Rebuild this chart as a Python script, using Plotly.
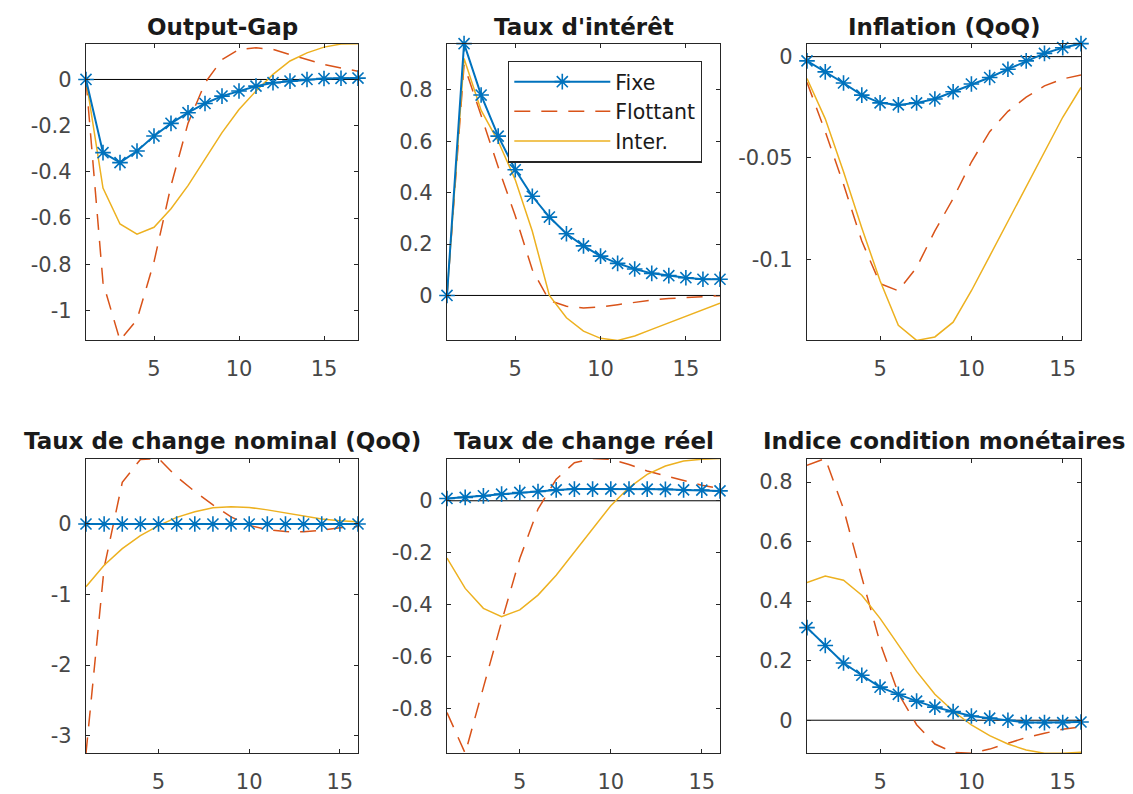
import plotly.graph_objects as go
from plotly.subplots import make_subplots

# ---------------- data ----------------
periods_17 = list(range(1, 18))
periods_16 = list(range(1, 17))

series_names = ["Fixe", "Flottant", "Inter."]

og_fixe = [0, -0.317, -0.36, -0.31, -0.245, -0.19, -0.144, -0.104, -0.072, -0.05, -0.029, -0.014, -0.007, 0.0, 0.004, 0.005, 0.006]
og_flot = [0, -0.88, -1.13, -1.04, -0.79, -0.46, -0.19, -0.015, 0.086, 0.13, 0.137, 0.13, 0.108, 0.086, 0.065, 0.05, 0.036]
og_inter = [0, -0.47, -0.626, -0.67, -0.64, -0.56, -0.46, -0.345, -0.23, -0.13, -0.05, 0.022, 0.08, 0.115, 0.14, 0.154, 0.155]

ir_fixe = [0, 0.98, 0.78, 0.62, 0.489, 0.386, 0.305, 0.24, 0.193, 0.153, 0.125, 0.103, 0.086, 0.077, 0.069, 0.063, 0.063]
ir_flot = [0, 0.897, 0.70, 0.50, 0.31, 0.10, -0.02, -0.042, -0.049, -0.045, -0.036, -0.026, -0.018, -0.012, -0.008, -0.004, -0.001]
ir_inter = [0, 0.922, 0.72, 0.60, 0.45, 0.25, 0.0, -0.087, -0.139, -0.167, -0.175, -0.158, -0.132, -0.107, -0.081, -0.055, -0.03]

inf_fixe = [-0.0021, -0.0075, -0.013, -0.019, -0.0228, -0.0238, -0.0228, -0.0209, -0.0173, -0.0135, -0.0103, -0.0062, -0.0021, 0.0016, 0.0044, 0.0064]
inf_flot = [-0.0127, -0.037, -0.063, -0.091, -0.112, -0.1155, -0.104, -0.086, -0.07, -0.052, -0.037, -0.027, -0.02, -0.0144, -0.011, -0.009]
inf_inter = [-0.0108, -0.0307, -0.0568, -0.0845, -0.1106, -0.1326, -0.14, -0.1383, -0.131, -0.1155, -0.0984, -0.0812, -0.0641, -0.047, -0.0299, -0.0152]

ner_fixe = [0, 0, 0, 0, 0, 0, 0, 0, 0, 0, 0, 0, 0, 0, 0, 0]
ner_flot = [-3.25, -0.62, 0.59, 0.915, 0.928, 0.67, 0.46, 0.27, 0.1, -0.02, -0.08, -0.108, -0.11, -0.09, -0.055, -0.035]
ner_inter = [-0.89, -0.586, -0.35, -0.164, -0.023, 0.094, 0.173, 0.23, 0.244, 0.234, 0.2, 0.155, 0.108, 0.07, 0.047, 0.033]

rer_fixe = [0.009, 0.013, 0.019, 0.0255, 0.032, 0.036, 0.042, 0.045, 0.045, 0.045, 0.045, 0.045, 0.044, 0.042, 0.041, 0.038]
rer_flot = [-0.817, -0.974, -0.72, -0.466, -0.223, -0.032, 0.083, 0.147, 0.163, 0.16, 0.14, 0.115, 0.096, 0.077, 0.06, 0.047]
rer_inter = [-0.221, -0.338, -0.415, -0.447, -0.421, -0.364, -0.287, -0.198, -0.108, -0.019, 0.051, 0.102, 0.134, 0.153, 0.16, 0.163]

mci_fixe = [0.311, 0.251, 0.192, 0.151, 0.111, 0.087, 0.064, 0.044, 0.029, 0.014, 0.007, 0.0, -0.008, -0.008, -0.008, -0.006]
mci_flot = [0.856, 0.879, 0.71, 0.48, 0.26, 0.09, -0.015, -0.08, -0.108, -0.111, -0.097, -0.078, -0.058, -0.044, -0.03, -0.022]
mci_inter = [0.462, 0.484, 0.47, 0.42, 0.342, 0.253, 0.164, 0.087, 0.031, -0.016, -0.052, -0.08, -0.1, -0.111, -0.111, -0.108]

titles = ["Output-Gap", "Taux d'intérêt", "Inflation (QoQ)",
          "Taux de change nominal (QoQ)", "Taux de change réel", "Indice condition monétaires"]

x_tickvals = [5, 10, 15]
x_ticktext = ["5", "10", "15"]

og_yticks = [-1, -0.8, -0.6, -0.4, -0.2, 0]
og_ytext = ["-1", "-0.8", "-0.6", "-0.4", "-0.2", "0"]
ir_yticks = [0, 0.2, 0.4, 0.6, 0.8]
ir_ytext = ["0", "0.2", "0.4", "0.6", "0.8"]
inf_yticks = [-0.1, -0.05, 0]
inf_ytext = ["-0.1", "-0.05", "0"]
ner_yticks = [-3, -2, -1, 0]
ner_ytext = ["-3", "-2", "-1", "0"]
rer_yticks = [-0.8, -0.6, -0.4, -0.2, 0]
rer_ytext = ["-0.8", "-0.6", "-0.4", "-0.2", "0"]
mci_yticks = [0, 0.2, 0.4, 0.6, 0.8]
mci_ytext = ["0", "0.2", "0.4", "0.6", "0.8"]

# ---------------- styling / layout ----------------
W, H = 1133, 794
BLUE, RED, YEL = "#0072BD", "#D95319", "#EDB120"
AX = "#262626"
TICKC = "#474747"
FONT = "DejaVu Sans"

panels = [
    (1, 1, periods_17, (og_fixe, og_flot, og_inter), og_yticks, og_ytext),
    (1, 2, periods_17, (ir_fixe, ir_flot, ir_inter), ir_yticks, ir_ytext),
    (1, 3, periods_16, (inf_fixe, inf_flot, inf_inter), inf_yticks, inf_ytext),
    (2, 1, periods_16, (ner_fixe, ner_flot, ner_inter), ner_yticks, ner_ytext),
    (2, 2, periods_16, (rer_fixe, rer_flot, rer_inter), rer_yticks, rer_ytext),
    (2, 3, periods_16, (mci_fixe, mci_flot, mci_inter), mci_yticks, mci_ytext),
]

col_px = [(86, 358), (447, 720), (807, 1081)]
row_px = [(44, 343), (462, 759)]
title_y_px = [27, 444]

fig = make_subplots(rows=2, cols=3)

for idx, (r, c, xs, (fx, fl, it), yt, ytt) in enumerate(panels):
    show = (r == 1 and c == 2)
    fig.add_trace(go.Scatter(x=xs, y=fl, mode="lines", name=series_names[1],
                             line=dict(color=RED, width=1.5, dash="16px,11px"),
                             showlegend=False, legendgroup="b"), row=r, col=c)
    fig.add_trace(go.Scatter(x=xs, y=it, mode="lines", name=series_names[2],
                             line=dict(color=YEL, width=1.5),
                             showlegend=False, legendgroup="c"), row=r, col=c)
    fig.add_trace(go.Scatter(x=xs, y=fx, mode="lines+markers", name=series_names[0],
                             line=dict(color=BLUE, width=2),
                             marker=dict(symbol="asterisk-open", size=13,
                                         line=dict(color=BLUE, width=1.6)),
                             cliponaxis=False,
                             showlegend=False, legendgroup="a"), row=r, col=c)
    if show:
        # legend entries
        for nm, ln, mk, rank in [
            (series_names[0], dict(color=BLUE, width=2), dict(symbol="asterisk-open", size=13, line=dict(color=BLUE, width=1.6)), 1),
            (series_names[1], dict(color=RED, width=1.5, dash="16px,11px"), None, 2),
            (series_names[2], dict(color=YEL, width=1.5), None, 3),
        ]:
            fig.add_trace(go.Scatter(x=[None], y=[None], name=nm,
                                     mode="lines+markers" if mk else "lines",
                                     line=ln, marker=mk if mk else None,
                                     showlegend=True, legendrank=rank), row=r, col=c)

    allv = list(fx) + list(fl) + list(it)
    ymin, ymax = min(allv), max(allv)
    n = idx + 1
    xa = "xaxis" if n == 1 else f"xaxis{n}"
    ya = "yaxis" if n == 1 else f"yaxis{n}"
    l, rr = col_px[c - 1]
    t, b = row_px[r - 1]
    fig.update_layout(**{
        xa: dict(domain=[l / W, rr / W], range=[xs[0], xs[-1]],
                 tickvals=x_tickvals, ticktext=x_ticktext,
                 ticks="inside", ticklen=4, tickcolor=AX, tickwidth=1,
                 showline=True, linecolor=AX, linewidth=1.3, mirror="ticks",
                 showgrid=False, zeroline=False,
                 tickfont=dict(family=FONT, size=21, color=TICKC),
                 ticklabelstandoff=9),
        ya: dict(domain=[1 - b / H, 1 - t / H], range=[ymin, ymax],
                 tickvals=yt, ticktext=ytt,
                 ticks="inside", ticklen=4, tickcolor=AX, tickwidth=1,
                 showline=True, linecolor=AX, linewidth=1.3, mirror="ticks",
                 showgrid=False, zeroline=False,
                 tickfont=dict(family=FONT, size=21, color=TICKC),
                 ticklabelstandoff=9),
    })
    fig.add_hline(y=0, line_color="black", line_width=1, layer="below", row=r, col=c)
    fig.add_annotation(text="<b>" + titles[idx] + "</b>", xref="paper", yref="paper",
                       x=(l + rr) / 2 / W, y=1 - title_y_px[r - 1] / H,
                       xanchor="center", yanchor="middle", showarrow=False,
                       font=dict(family=FONT, size=23, color="#1a1a1a"))

fig.update_layout(
    width=W, height=H,
    margin=dict(l=0, r=0, t=0, b=0),
    paper_bgcolor="white", plot_bgcolor="white",
    showlegend=True,
    legend=dict(x=508 / W, y=1 - 61 / H, xanchor="left", yanchor="top",
                bgcolor="white", bordercolor=AX, borderwidth=1.3,
                font=dict(family=FONT, size=20.5, color="#1a1a1a"),
                itemwidth=96, tracegroupgap=0,
                traceorder="normal"),
)

fig.write_html("out.html", config={"displayModeBar": False},
               post_script="document.body.style.margin='0';")
